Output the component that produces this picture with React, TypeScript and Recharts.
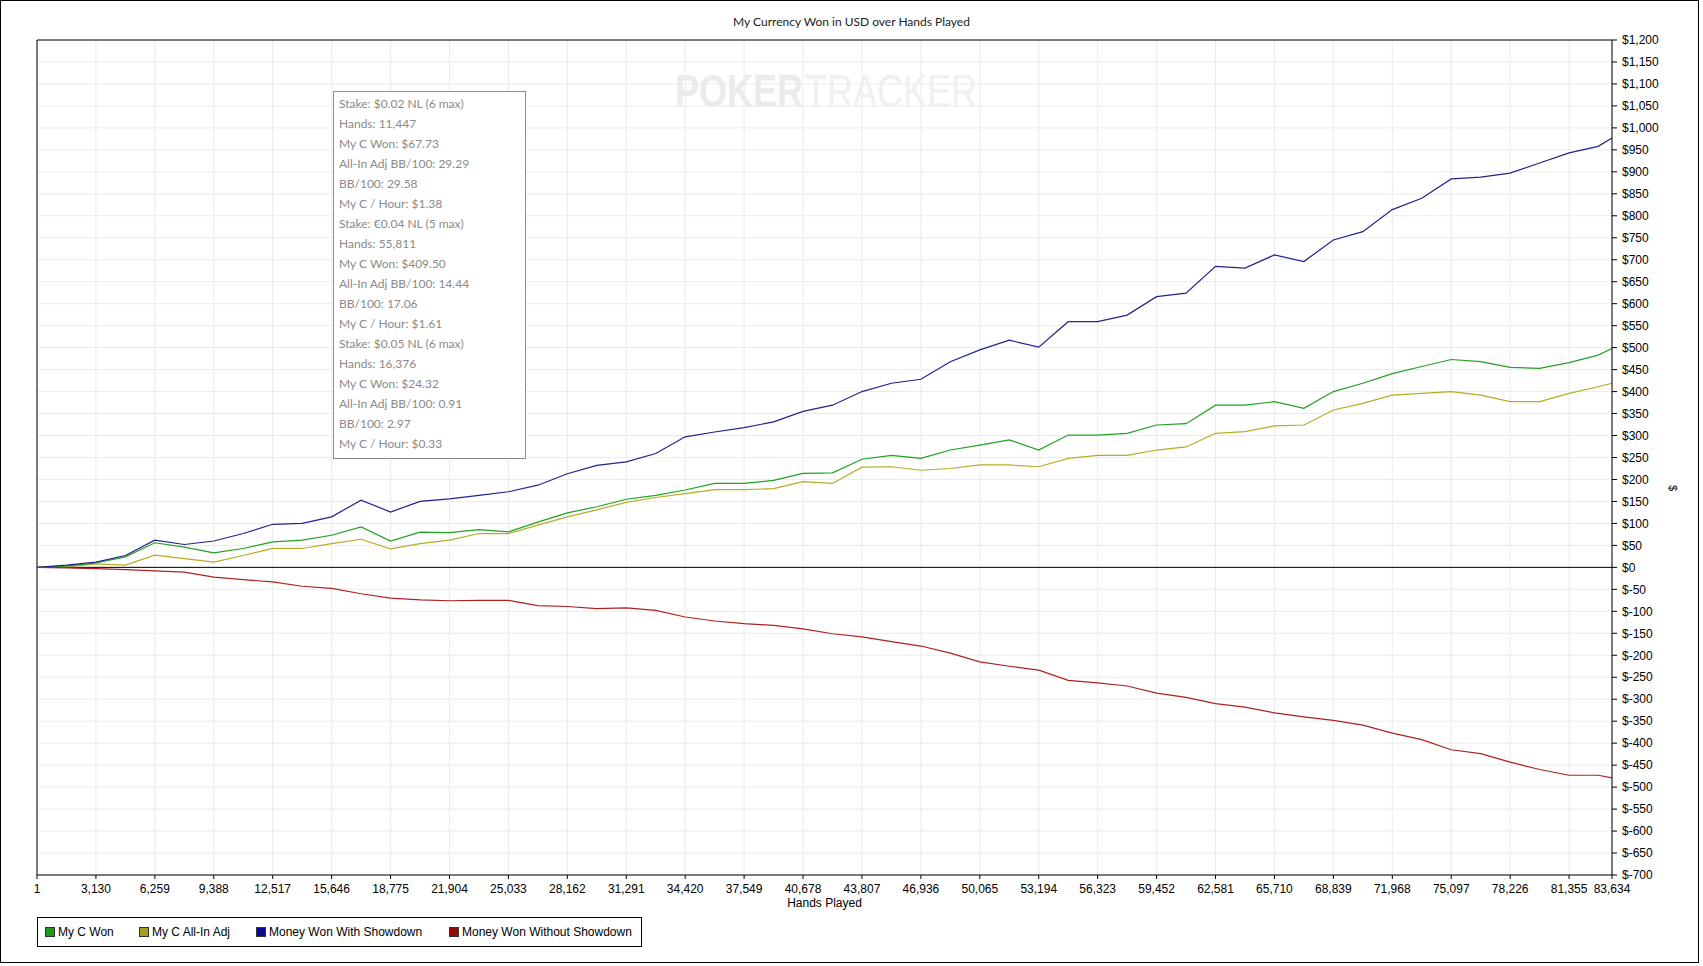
import {
  CartesianGrid,
  Customized,
  Line,
  LineChart,
  ReferenceLine,
  XAxis,
  YAxis,
} from 'recharts'

// hands played at each sample
const hands = [
  1, 1565, 3130, 4694, 6259, 7823, 9388, 10952, 12517, 14081,
  15646, 17210, 18775, 20339, 21904, 23468, 25033, 26597, 28162, 29726,
  31291, 32855, 34420, 35984, 37549, 39113, 40678, 42242, 43807, 45371,
  46936, 48500, 50065, 51629, 53194, 54758, 56323, 57887, 59452, 61016,
  62581, 64145, 65710, 67274, 68839, 70403, 71968, 73532, 75097, 76661,
  78226, 79790, 81355, 82900, 83634,
]

const myCWon = [
  0, 3, 10, 24, 56, 46, 33, 43, 58, 62,
  73, 92, 60, 80, 79, 86, 81, 103, 124, 138,
  155, 164, 176, 191, 191, 198, 214, 215, 246, 255,
  248, 267, 278, 290, 267, 301, 301, 305, 324, 327,
  369, 369, 377, 362, 400, 419, 441, 457, 473, 468,
  455, 453, 466, 483, 498,
]

const myCAllInAdj = [
  0, 1, 8, 5, 28, 20, 12, 27, 43, 43,
  54, 64, 42, 54, 62, 77, 77, 96, 115, 131,
  148, 159, 168, 177, 177, 179, 195, 191, 228, 229,
  221, 225, 233, 233, 229, 248, 255, 255, 267, 274,
  305, 309, 322, 324, 358, 373, 392, 396, 400, 392,
  377, 377, 396, 411, 419,
]

const wonWithShowdown = [
  0, 5, 12, 27, 62, 52, 60, 77, 98, 100,
  115, 153, 126, 150, 156, 164, 172, 187, 213, 232,
  240, 259, 297, 308, 318, 331, 355, 369, 400, 419,
  428, 468, 495, 517, 501, 559, 559, 574, 616, 624,
  685, 681, 711, 696, 745, 764, 814, 840, 884, 888,
  897, 920, 943, 958, 977,
]

const wonWithoutShowdown = [
  0, -1, -3, -5, -8, -11, -22, -28, -33, -43,
  -48, -60, -70, -74, -76, -75, -75, -87, -89, -94,
  -92, -98, -113, -122, -128, -132, -140, -151, -158, -169,
  -179, -195, -215, -225, -234, -257, -263, -270, -286, -296,
  -310, -318, -331, -340, -348, -359, -377, -392, -415, -424,
  -443, -460, -473, -473, -479,
]

const xTicks = [
  1, 3130, 6259, 9388, 12517, 15646, 18775, 21904, 25033, 28162,
  31291, 34420, 37549, 40678, 43807, 46936, 50065, 53194, 56323, 59452,
  62581, 65710, 68839, 71968, 75097, 78226, 81355, 83634,
]

const yTicks = [
  -700, -650, -600, -550, -500, -450, -400, -350, -300, -250,
  -200, -150, -100, -50, 0, 50, 100, 150, 200, 250,
  300, 350, 400, 450, 500, 550, 600, 650, 700, 750,
  800, 850, 900, 950, 1000, 1050, 1100, 1150, 1200,
]

const seriesNames = ['My C Won', 'My C All-In Adj', 'Money Won With Showdown', 'Money Won Without Showdown']
const lineColors = ['#22a022', '#b3ae22', '#22228c', '#ae2222']
const swatchColors = ['#1c9a1c', '#a39f1c', '#0a0a96', '#960a0a']

const statLines = [
  'Stake: $0.02 NL (6 max)',
  'Hands: 11,447',
  'My C Won: $67.73',
  'All-In Adj BB/100: 29.29',
  'BB/100: 29.58',
  'My C / Hour: $1.38',
  'Stake: €0.04 NL (5 max)',
  'Hands: 55,811',
  'My C Won: $409.50',
  'All-In Adj BB/100: 14.44',
  'BB/100: 17.06',
  'My C / Hour: $1.61',
  'Stake: $0.05 NL (6 max)',
  'Hands: 16,376',
  'My C Won: $24.32',
  'All-In Adj BB/100: 0.91',
  'BB/100: 2.97',
  'My C / Hour: $0.33',
]

const chartData = hands.map((h, i) => ({
  hands: h,
  won: myCWon[i],
  allIn: myCAllInAdj[i],
  withSd: wonWithShowdown[i],
  withoutSd: wonWithoutShowdown[i],
}))

const W = 1703
const H = 966
const uiFont = 'Lato, "Noto Sans", sans-serif'
const axisFont = '"Liberation Sans", Arial, sans-serif'

function formatDollars(v: number) {
  if (v < 0) return '$-' + Math.abs(v).toLocaleString('en-US')
  return '$' + v.toLocaleString('en-US')
}

function Decorations() {
  // legend item x positions
  const legendX = [45, 139, 256, 449]
  return (
    <g>
      <rect x={0.5} y={0.5} width={1698} height={962} fill="none" stroke="#000" />
      <text x={W / 2} y={26} textAnchor="middle" fontFamily={uiFont} fontSize={12} fill="#222">
        My Currency Won in USD over Hands Played
      </text>

      {/* watermark, stretched vertically */}
      <g transform="translate(675, 107) scale(1, 1.3)">
        <text x={0} y={0} fontFamily={axisFont} fontWeight="bold" fontSize={36} fill="#ebebeb">
          POKER
        </text>
        <text x={130} y={0} fontFamily={axisFont} fontSize={36} fill="#f0f0f0">
          TRACKER
        </text>
      </g>

      {/* stats box */}
      <rect x={333.5} y={91.5} width={192} height={367} fill="#fff" stroke="#8c8c8c" />
      {statLines.map((s, i) => (
        <text key={i} x={339} y={108 + i * 20} fontFamily={uiFont} fontSize={12} fill="#8a8a8a">
          {s}
        </text>
      ))}

      <text x={0} y={0} transform="translate(1669, 485) rotate(90)" fontFamily={axisFont} fontSize={11} fill="#000">
        $
      </text>

      {/* legend */}
      <rect x={37.5} y={917.5} width={604} height={29} fill="#fff" stroke="#000" />
      {seriesNames.map((name, i) => (
        <g key={name}>
          <rect x={legendX[i] + 0.5} y={927.5} width={9} height={9} fill={swatchColors[i]} stroke="#333" />
          <text x={legendX[i] + 13} y={936} fontFamily={axisFont} fontSize={12} fill="#000">
            {name}
          </text>
        </g>
      ))}
    </g>
  )
}

export default function App() {
  return (
    <div style={{ position: 'absolute', left: 0, top: 0, width: W, height: H, background: '#fff' }}>
      <LineChart width={W} height={H} data={chartData} margin={{ top: 40, right: 31, bottom: 71, left: 37 }}>
        <Customized component={<Decorations />} />
        <CartesianGrid stroke="#ebebeb" />
        <XAxis
          dataKey="hands"
          type="number"
          domain={[1, 83634]}
          ticks={xTicks}
          interval={0}
          height={20}
          tickSize={4}
          tickMargin={5}
          tickFormatter={(v: number) => v.toLocaleString('en-US')}
          tick={{ fontSize: 12, fill: '#000', fontFamily: axisFont }}
          stroke="#000"
          label={{ value: 'Hands Played', position: 'bottom', offset: 3, fontSize: 12, fill: '#000', fontFamily: axisFont }}
        />
        <YAxis
          orientation="right"
          type="number"
          domain={[-700, 1200]}
          ticks={yTicks}
          interval={0}
          width={60}
          tickSize={5}
          tickMargin={5}
          tickFormatter={formatDollars}
          tick={{ fontSize: 12, fill: '#000', fontFamily: axisFont, textAnchor: 'start' }}
          stroke="#000"
          allowDataOverflow
        />
        <ReferenceLine y={1200} stroke="#000" />
        <ReferenceLine x={1} stroke="#000" />
        <ReferenceLine y={0} stroke="#000" />
        <Line type="linear" dataKey="allIn" name={seriesNames[1]} stroke={lineColors[1]} strokeWidth={1.2} dot={false} isAnimationActive={false} />
        <Line type="linear" dataKey="won" name={seriesNames[0]} stroke={lineColors[0]} strokeWidth={1.2} dot={false} isAnimationActive={false} />
        <Line type="linear" dataKey="withSd" name={seriesNames[2]} stroke={lineColors[2]} strokeWidth={1.2} dot={false} isAnimationActive={false} />
        <Line type="linear" dataKey="withoutSd" name={seriesNames[3]} stroke={lineColors[3]} strokeWidth={1.2} dot={false} isAnimationActive={false} />
      </LineChart>
    </div>
  )
}
